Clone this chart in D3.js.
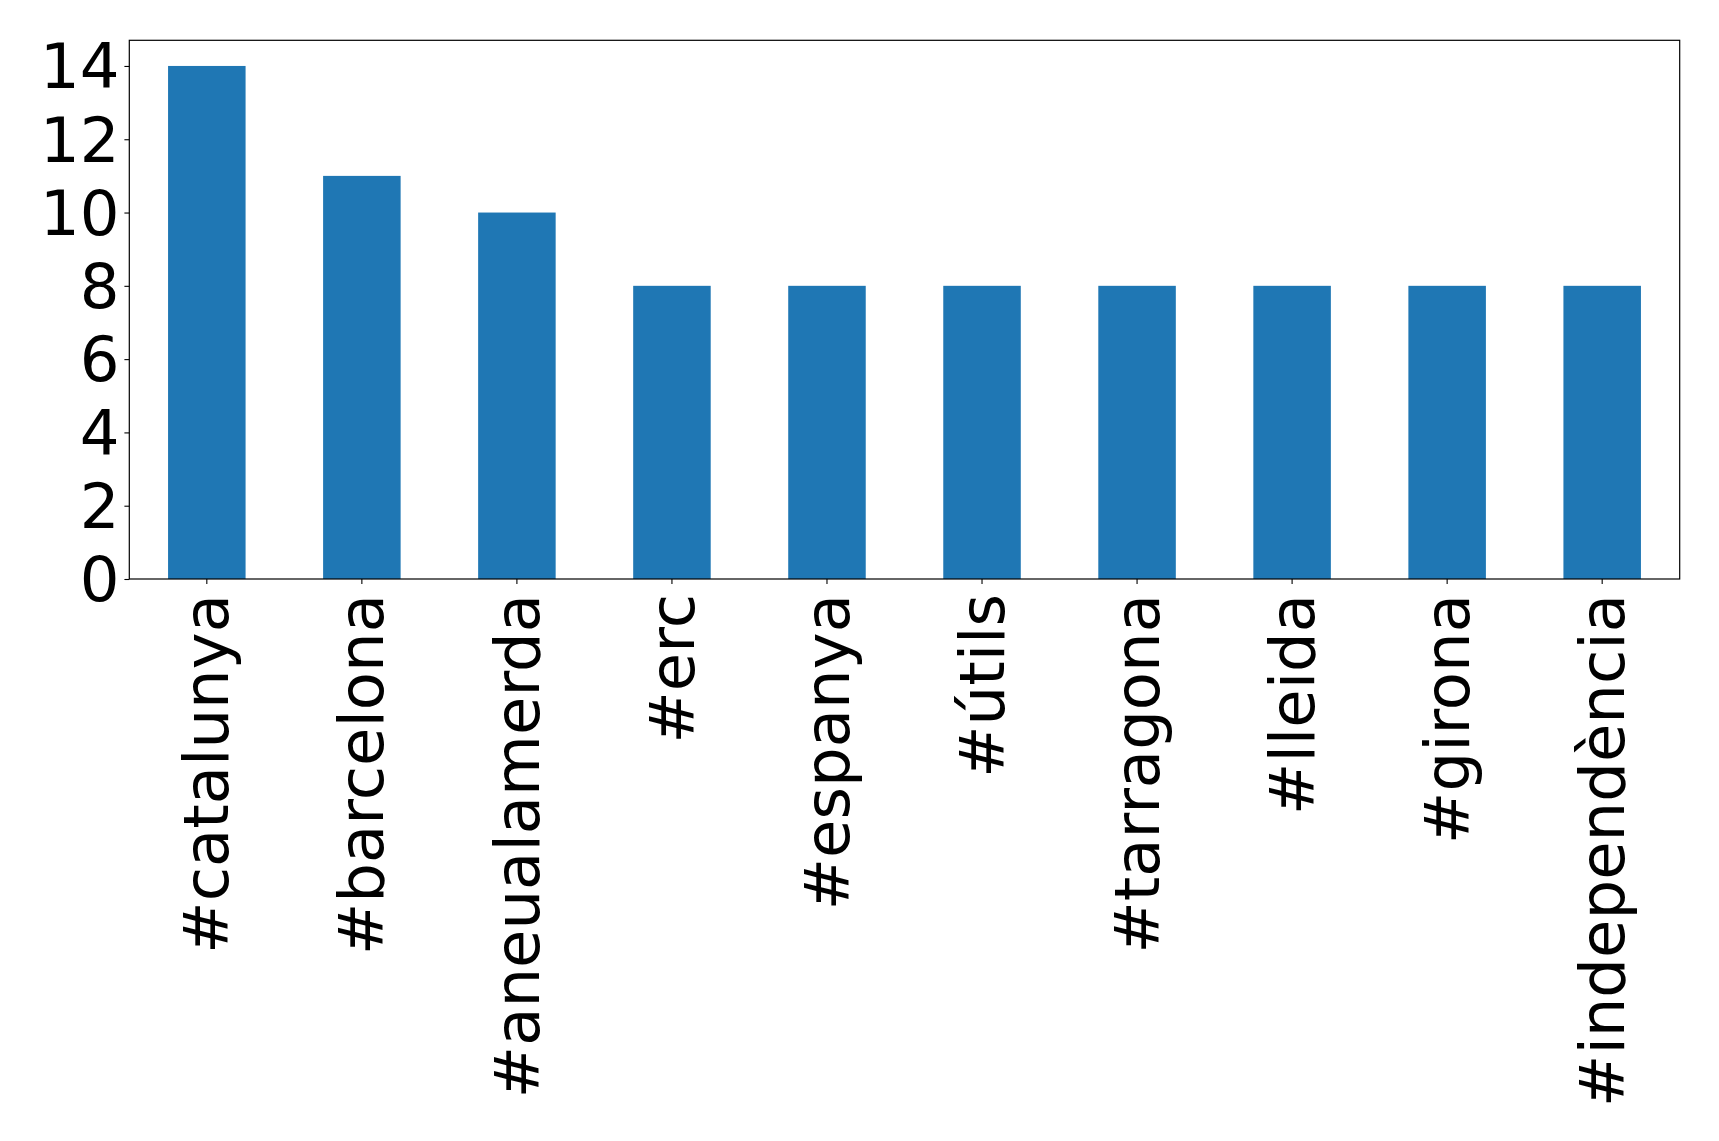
<!DOCTYPE html>
<html>
<head>
<meta charset="utf-8">
<script src="https://cdn.jsdelivr.net/npm/d3@7"></script>
<style>
  html, body { margin: 0; padding: 0; background: #fff; }
  svg { display: block; }
  text { font-family: "DejaVu Sans", sans-serif; }
</style>
</head>
<body>
<script>
const categories = ["#catalunya", "#barcelona", "#aneualamerda", "#erc", "#espanya", "#útils", "#tarragona", "#lleida", "#girona", "#independència"];
const values = [14, 11, 10, 8, 8, 8, 8, 8, 8, 8];
const yTicks = [0, 2, 4, 6, 8, 10, 12, 14];

(function () {
const W = 1719, H = 1141;
const mLeft = 129.3, mRight = 1679.7, mTop = 40.3, mBottom = 579;
const fs = 62.5;

const svg = d3.select("body").append("svg").attr("width", W).attr("height", H);

const x = d3.scaleBand().domain(categories).range([mLeft, mRight]).paddingInner(0.5).paddingOuter(0.25);
const y = d3.scaleLinear().domain([0, 14 * 1.05]).range([mBottom, mTop]);

svg.selectAll("rect.bar").data(values).enter().append("rect")
  .attr("class", "bar")
  .attr("x", (d, i) => x(categories[i]))
  .attr("width", x.bandwidth())
  .attr("y", d => y(d))
  .attr("height", d => y(0) - y(d))
  .attr("fill", "#1f77b4");

svg.append("rect").attr("x", mLeft).attr("y", mTop).attr("width", mRight - mLeft).attr("height", mBottom - mTop)
  .attr("fill", "none").attr("stroke", "#000").attr("stroke-width", 1.2);

const yAxis = d3.axisLeft(y).tickValues(yTicks).tickSize(4.9).tickPadding(4.9);
const gy = svg.append("g").attr("transform", `translate(${mLeft},0)`).call(yAxis);
gy.select(".domain").remove();
gy.selectAll(".tick line").attr("stroke", "#000").attr("stroke-width", 1.1);
gy.selectAll(".tick text").attr("font-size", fs).attr("fill", "#000").attr("font-family", "DejaVu Sans").attr("dy", "0.35em");

const xAxis = d3.axisBottom(x).tickSize(4.9).tickPadding(0);
const gx = svg.append("g").attr("transform", `translate(0,${mBottom})`).call(xAxis);
gx.select(".domain").remove();
gx.selectAll(".tick line").attr("stroke", "#000").attr("stroke-width", 1.1);
gx.selectAll(".tick text")
  .attr("font-size", fs).attr("fill", "#000").attr("font-family", "DejaVu Sans")
  .attr("text-anchor", "end")
  .attr("transform", "translate(0,15) rotate(-90)")
  .attr("x", 0).attr("y", 0).attr("dy", "0.346em");
})();
</script>
</body>
</html>
